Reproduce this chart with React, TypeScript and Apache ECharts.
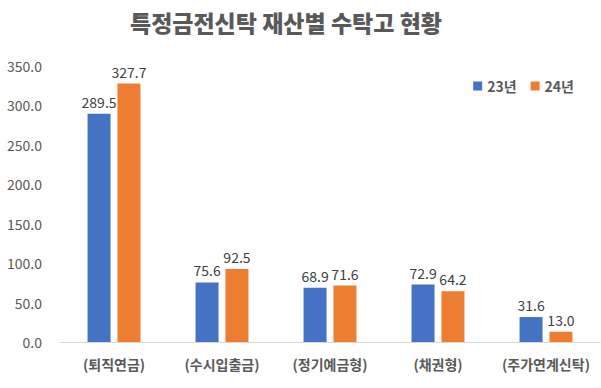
import React, { useEffect, useRef } from "react";
import * as echarts from "echarts";

const categories = ["(퇴직연금)", "(수시입출금)", "(정기예금형)", "(채권형)", "(주가연계신탁)"];
const s23 = [289.5, 75.6, 68.9, 72.9, 31.6];
const s24 = [327.7, 92.5, 71.6, 64.2, 13.0];
const seriesNames = ["23년", "24년"];
const titleText = "특정금전신탁 재산별 수탁고 현황";

export default function App() {
  const ref = useRef<HTMLDivElement>(null);
  useEffect(() => {
    const chart = echarts.init(ref.current!, undefined, { renderer: "svg" });
    const font = "'Noto Sans CJK KR', 'Noto Sans', sans-serif";
    const label = {
      show: true,
      position: "top" as const,
      formatter: (p: any) => Number(p.value).toFixed(1),
      color: "#404040",
      fontSize: 14,
      fontFamily: font,
      distance: 5,
    };
    chart.setOption({
      animation: false,
      backgroundColor: "#ffffff",
      title: {
        text: titleText,
        left: 281,
        textAlign: "center",
        top: 5,
        textStyle: { fontSize: 23, fontWeight: 900, color: "#595959", fontFamily: font },
      },
      legend: {
        data: seriesNames,
        right: 22,
        top: 74,
        itemWidth: 9,
        itemHeight: 9,
        itemGap: 14,
        icon: "rect",
        textStyle: { fontSize: 14, fontWeight: "bold", color: "#595959", fontFamily: font },
      },
      grid: { left: 60, right: 1, top: 66, bottom: 46, containLabel: false },
      xAxis: {
        type: "category",
        data: categories,
        axisTick: { show: false },
        axisLine: { lineStyle: { color: "#d9d9d9" } },
        axisLabel: { color: "#595959", fontSize: 14, fontWeight: "bold", fontFamily: font, margin: 15, interval: 0 },
      },
      yAxis: {
        type: "value",
        min: 0,
        max: 350,
        interval: 50,
        splitLine: { show: false },
        axisLine: { show: false },
        axisTick: { show: false },
        axisLabel: {
          color: "#595959",
          fontSize: 14,
          fontFamily: font,
          margin: 18,
          formatter: (v: number) => v.toFixed(1),
        },
      },
      series: [
        {
          name: seriesNames[0],
          type: "bar",
          data: s23,
          barWidth: 23,
          barGap: "30%",
          itemStyle: { color: "#4472C4" },
          label,
        },
        {
          name: seriesNames[1],
          type: "bar",
          data: s24,
          barWidth: 23,
          barGap: "30%",
          itemStyle: { color: "#ED7D31" },
          label,
        },
      ],
    });
    return () => chart.dispose();
  }, []);
  return <div ref={ref} style={{ width: 601, height: 388, position: "absolute", left: 0, top: 0 }} />;
}
